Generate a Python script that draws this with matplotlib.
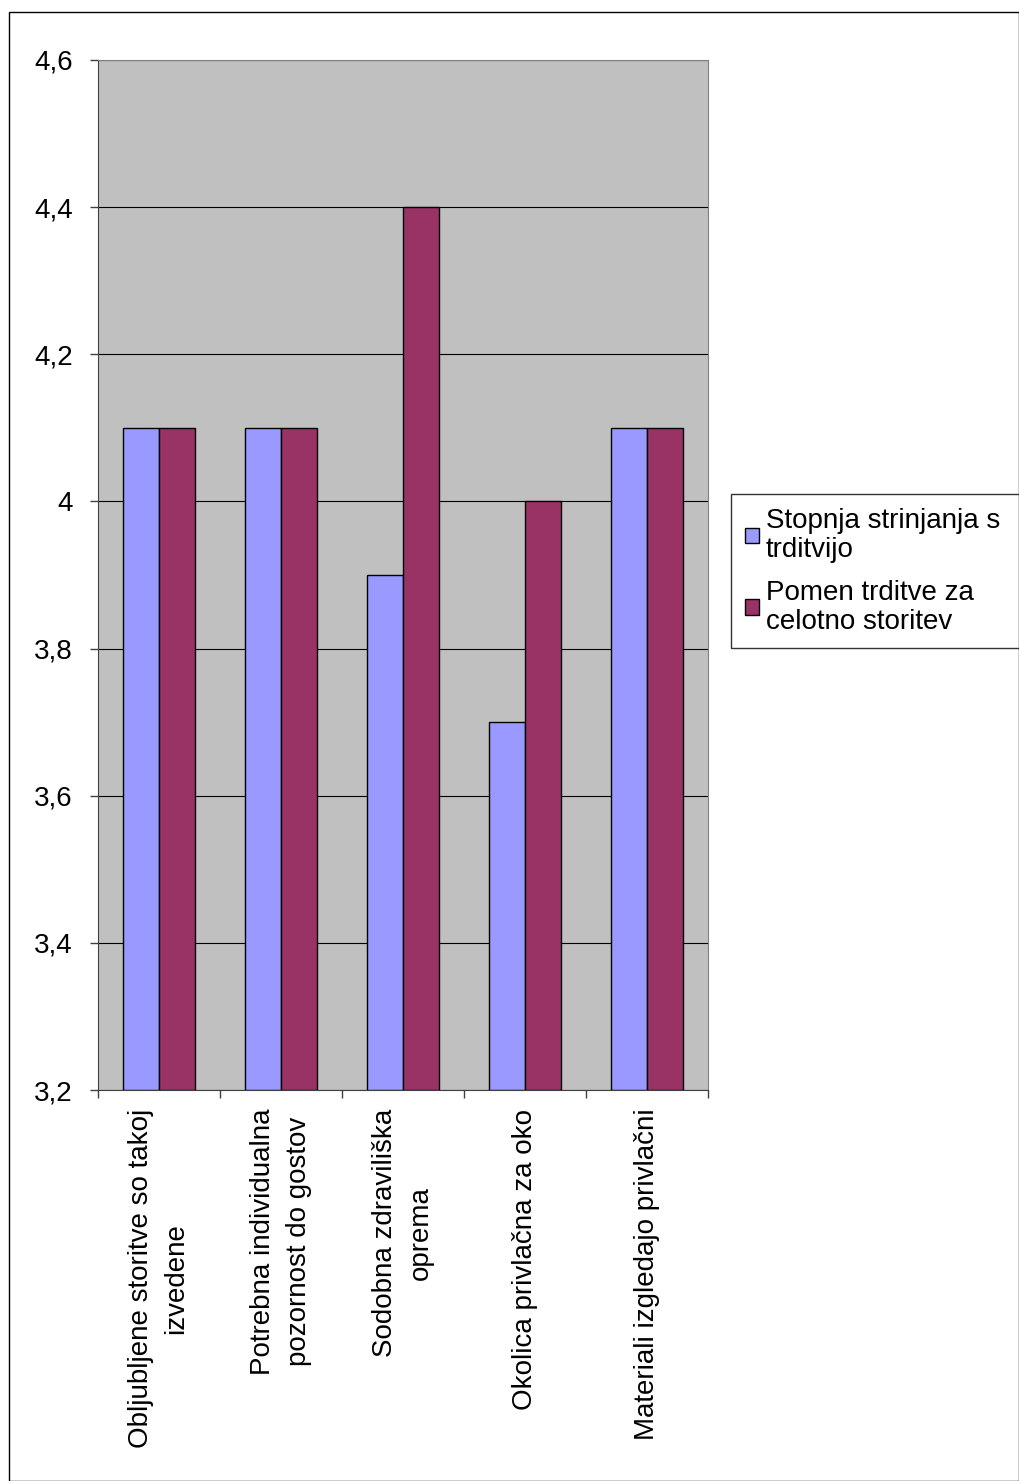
import numpy as np
import matplotlib.pyplot as plt
from matplotlib.patches import Rectangle

plt.rcParams['font.family'] = ['Liberation Sans', 'DejaVu Sans']

categories = [
    "Obljubljene storitve so takoj\nizvedene",
    "Potrebna individualna\npozornost do gostov",
    "Sodobna zdraviliška\noprema",
    "Okolica privlačna za oko",
    "Materiali izgledajo privlačni",
]
strinjanje = [4.1, 4.1, 3.9, 3.7, 4.1]
pomen = [4.1, 4.1, 4.4, 4.0, 4.1]
series_names = ["Stopnja strinjanja s\ntrditvijo", "Pomen trditve za\ncelotno storitev"]
yticks = [3.2, 3.4, 3.6, 3.8, 4.0, 4.2, 4.4, 4.6]
ytick_labels = ["3,2", "3,4", "3,6", "3,8", "4", "4,2", "4,4", "4,6"]

W, H = 1019, 1481
fig = plt.figure(figsize=(W / 100, H / 100), dpi=100)
fs = 20

# outer frame
fig.patches.append(Rectangle((9 / W, 0.5 / H), (W - 9) / W, (H - 12) / H,
                             transform=fig.transFigure, fill=False,
                             edgecolor="black", linewidth=1))

ax = fig.add_axes([98 / W, 1 - 1090 / H, 610 / W, 1030 / H])
ax.set_facecolor("#C0C0C0")

x = np.arange(len(categories))
bw = 0.295
ax.bar(x - bw / 2, np.array(strinjanje) - 3.2, bw, bottom=3.2, color="#9999FF",
       edgecolor="black", linewidth=1, label=series_names[0], zorder=3)
ax.bar(x + bw / 2, np.array(pomen) - 3.2, bw, bottom=3.2, color="#993366",
       edgecolor="black", linewidth=1, label=series_names[1], zorder=3)

ax.set_xlim(-0.5, len(categories) - 0.5)
ax.set_ylim(3.2, 4.6)
ax.set_yticks(yticks)
ax.set_yticklabels(ytick_labels, fontsize=fs)
ax.yaxis.grid(True, color="black", linewidth=0.8, zorder=1)
ax.set_axisbelow(True)

ax.set_xticks(np.arange(len(categories) + 1) - 0.5)
ax.set_xticklabels([])
ax.tick_params(axis="both", direction="out", length=6, width=1, color="#404040")
ax.tick_params(axis="y", pad=12)

for s in ["top", "right"]:
    ax.spines[s].set_color("#808080")
ax.spines["left"].set_color("#404040")
ax.spines["bottom"].set_color("#404040")

for i, lab in enumerate(categories):
    ax.text(i, -0.018, lab, transform=ax.get_xaxis_transform(), rotation=90,
            ha="center", va="top", multialignment="center", fontsize=fs,
            linespacing=1.45)

leg = fig.legend(loc="upper left",
                 bbox_to_anchor=(731 / W, 1 - 655 / H, (1019 - 731) / W, 161 / H),
                 mode="expand",
                 fontsize=fs, frameon=True, fancybox=False, edgecolor="black",
                 handlelength=0.5, handleheight=0.5, handletextpad=0.25,
                 borderpad=0.5, labelspacing=0.6, borderaxespad=0)
leg.get_frame().set_linewidth(1)
for t in leg.get_texts():
    t.set_linespacing(1.15)

fig.savefig("out.png", dpi=100)
